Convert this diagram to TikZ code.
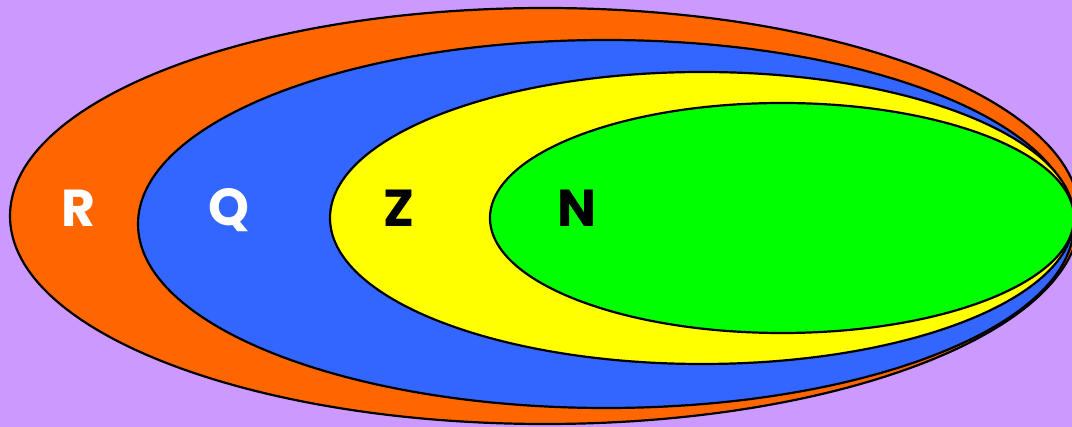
\documentclass[tikz,border=0pt]{standalone}
\usepackage{fontspec}
\setsansfont{Poppins}
\usepackage{tikz}
\definecolor{bgpurple}{HTML}{CC99FF}
\definecolor{setR}{HTML}{FF6600}
\definecolor{setQ}{HTML}{3366FF}
\definecolor{setZ}{HTML}{FFFF00}
\definecolor{setN}{HTML}{00FF00}
\tikzset{
  setline/.style={draw=black,line width=2.2pt},
  setlabel/.style={font=\sffamily\bfseries\fontsize{52}{52}\selectfont,inner sep=0pt}
}

\begin{document}
\begin{tikzpicture}[x=1pt,y=-1pt]
\useasboundingbox (0,0) rectangle (1072,427);
\clip (0,0) rectangle (1072,427);
\fill[bgpurple] (0,0) rectangle (1072,427);
\draw[setline,fill=setR] (545,216) ellipse [x radius=535,y radius=208];
\draw[setline,fill=setQ] (606,224) ellipse [x radius=468,y radius=184];
\draw[setline,fill=setZ] (702,218) ellipse [x radius=372,y radius=146];
\draw[setline,fill=setN] (782,218) ellipse [x radius=292,y radius=115];
\node[setlabel,text=white] (R) at (78,208) {R};
\node[setlabel,text=white] (Q) at (229,210) {Q};
\node[setlabel] (Z) at (399,208) {Z};
\node[setlabel] (N) at (577,208) {N};
\end{tikzpicture}
\end{document}
